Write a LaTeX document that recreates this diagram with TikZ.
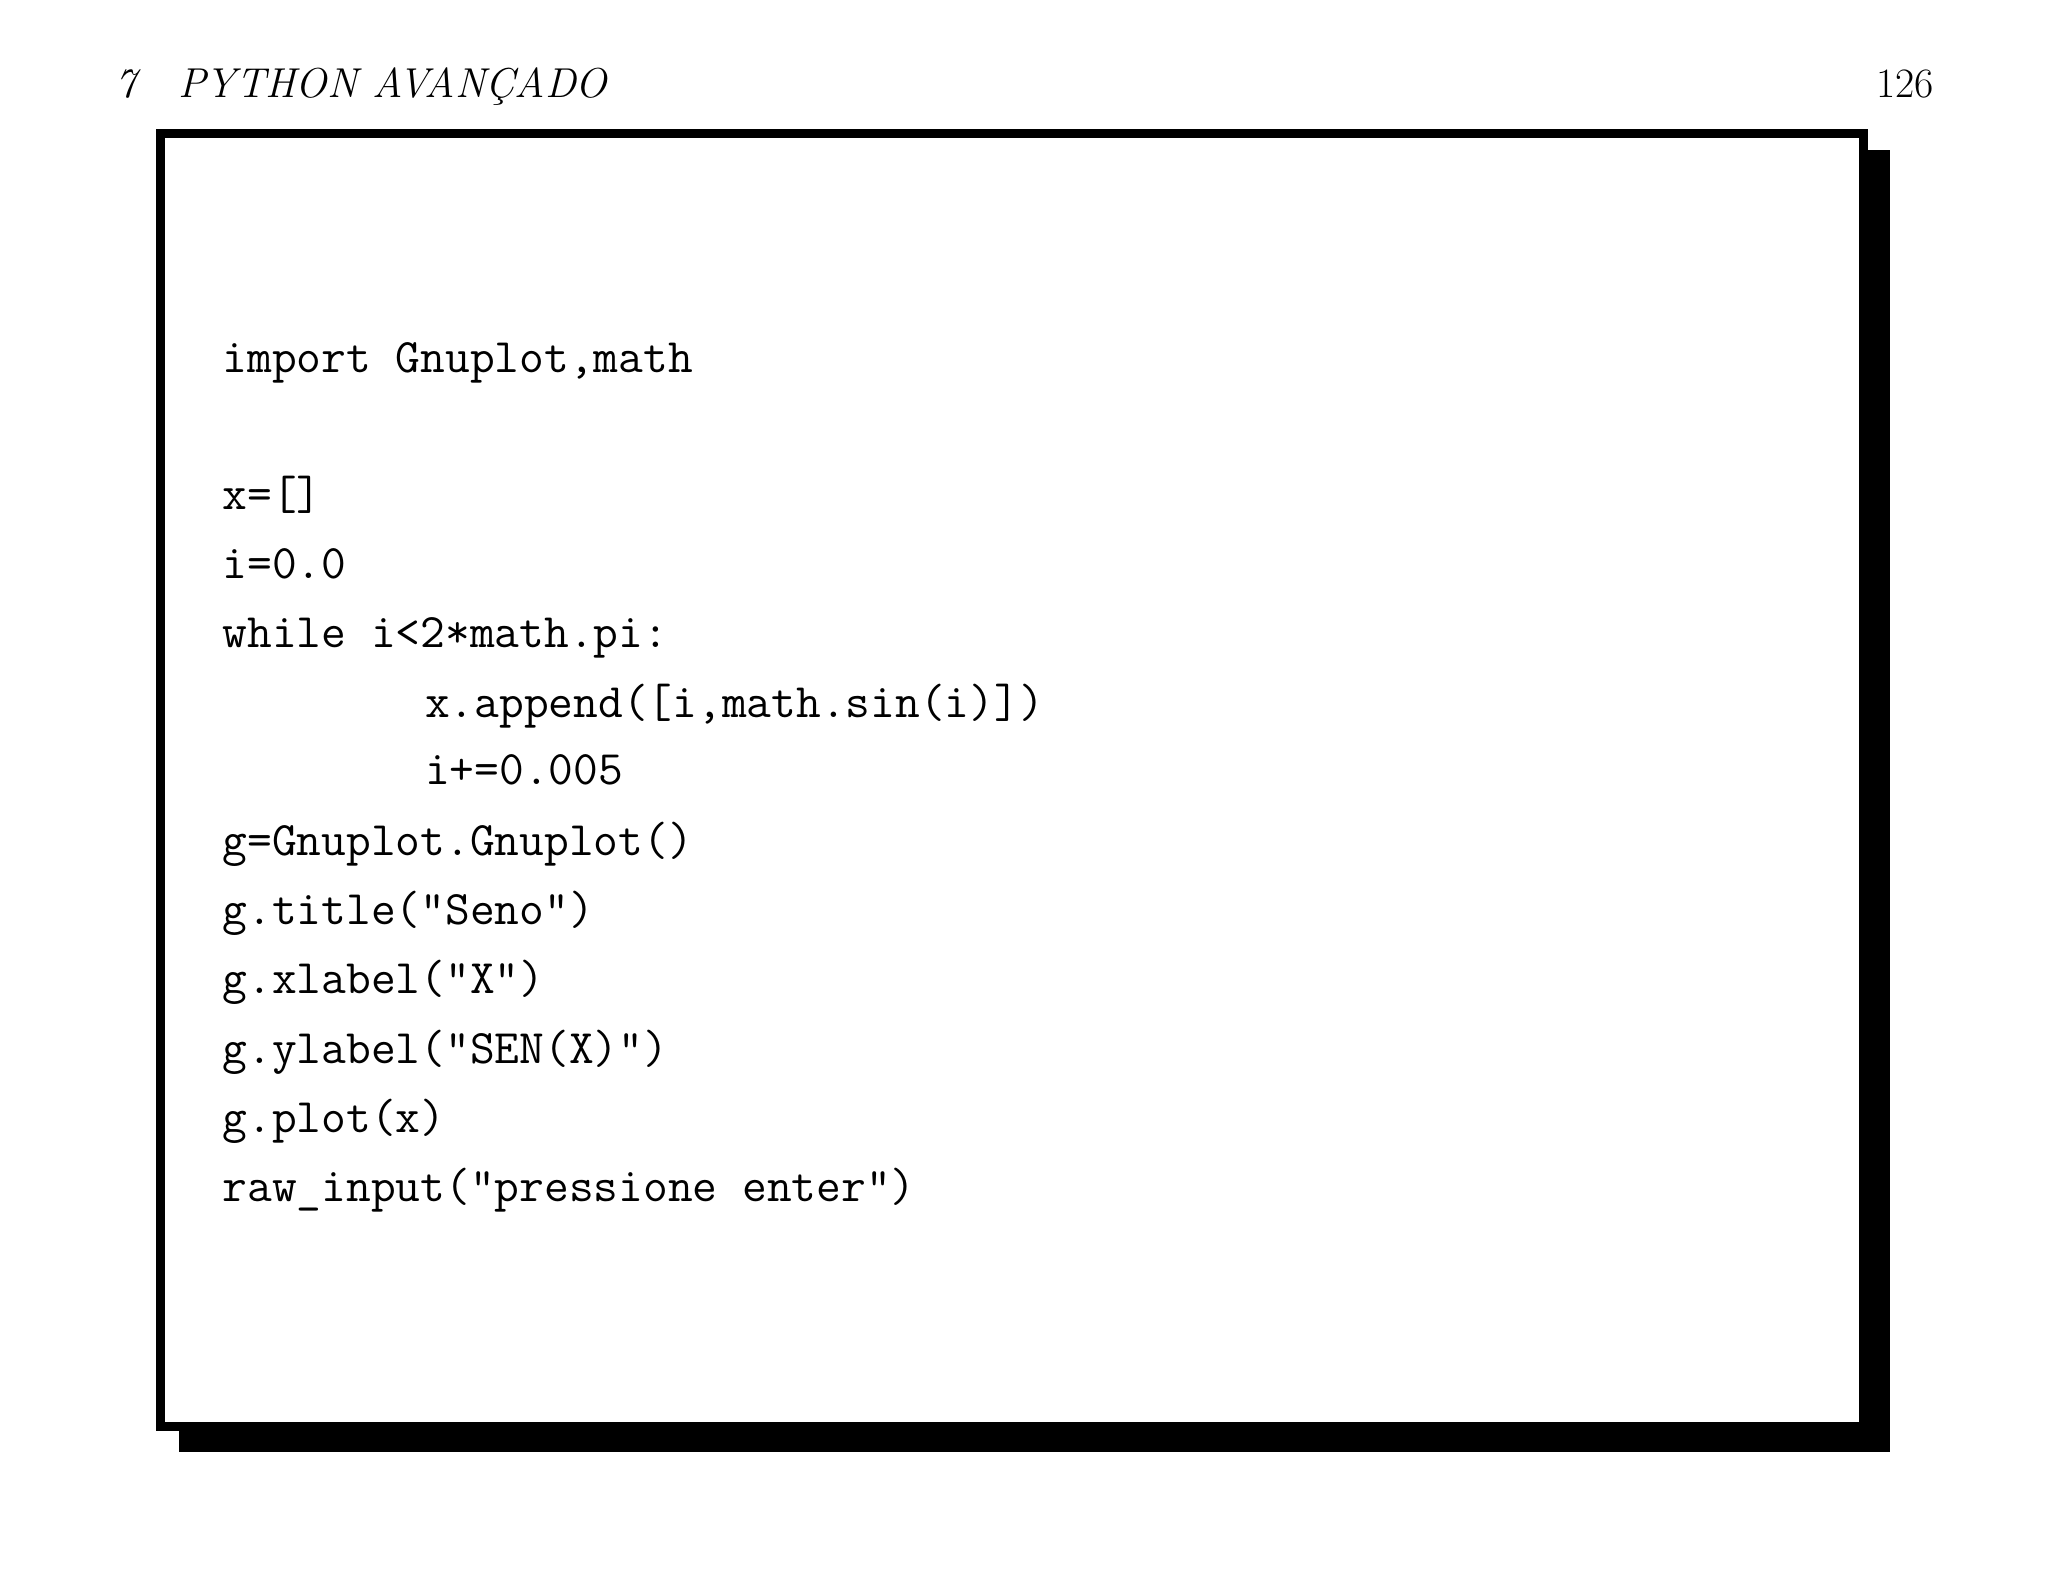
\documentclass[tikz,border=0pt]{standalone}
\usepackage{fontspec}
\begin{document}
\begin{tikzpicture}[x=0.5pt,y=-0.5pt,
  code/.style={anchor=base west,inner sep=0pt,font=\fontsize{18.4}{20}\selectfont\ttfamily},
  head/.style={anchor=base west,inner sep=0pt,font=\fontsize{16}{18}\selectfont\itshape}]
\useasboundingbox (0,0) rectangle (1568,1211);
\fill (137,1092) rectangle (1447,1112);
\fill (1427,115) rectangle (1447,1112);
\draw[line width=3.5pt] (123,102) rectangle (1427,1092);
\node[head] (h1) at (88,75) {7\quad PYTHON AVANÇADO};
\node[anchor=base east,inner sep=0pt,font=\fontsize{16}{18}\selectfont] (h2) at (1481,75) {126};
\node[code] (l1) at (170,285) {import Gnuplot,math};
\node[code] (l2) at (170,390) {x=[]};
\node[code] (l3) at (170,443) {i=0.0};
\node[code] (l4) at (170,496) {while i<2*math.pi:};
\node[code] (l5) at (325,549) {x.append([i,math.sin(i)])};
\node[code] (l6) at (325,601) {i+=0.005};
\node[code] (l7) at (170,655) {g=Gnuplot.Gnuplot()};
\node[code] (l8) at (170,708) {g.title("Seno")};
\node[code] (l9) at (170,761) {g.xlabel("X")};
\node[code] (l10) at (170,814) {g.ylabel("SEN(X)")};
\node[code] (l11) at (170,867) {g.plot(x)};
\node[code] (l12) at (170,920) {raw\_input("pressione enter")};
\end{tikzpicture}
\end{document}
